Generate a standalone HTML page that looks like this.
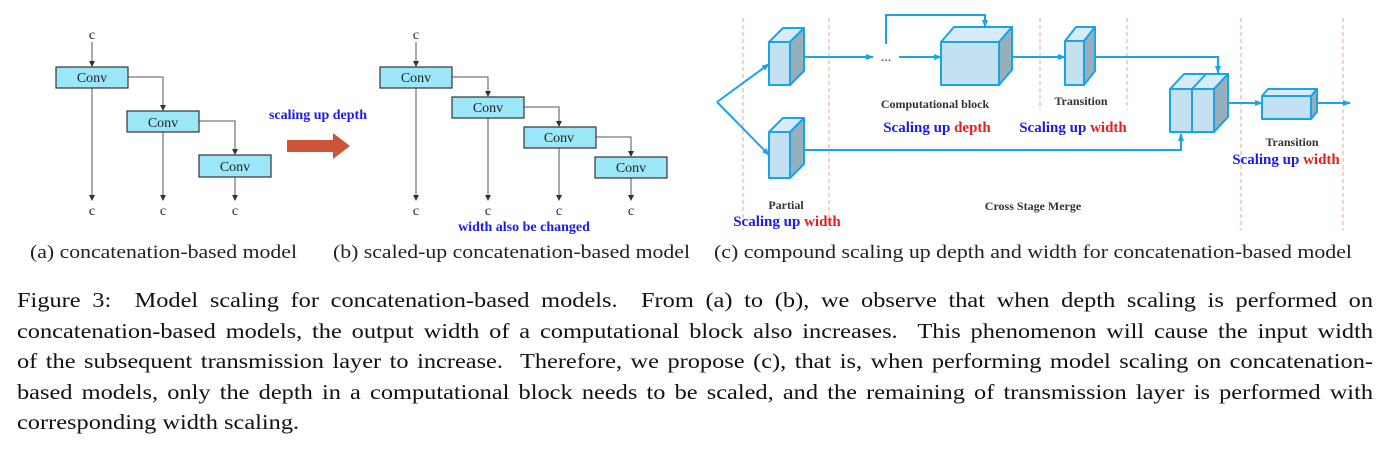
<!DOCTYPE html>
<html><head><meta charset="utf-8"><style>
body{margin:0;width:1393px;height:449px;background:#fff;overflow:hidden;position:relative;font-family:"Liberation Serif",serif}
svg{position:absolute;left:0;top:0}
.cap{position:absolute;left:17px;width:1169px;font-size:21px;line-height:30.5px;color:#111;text-align:justify;text-align-last:justify;white-space:nowrap;transform:scaleX(1.16);transform-origin:0 0}
.cap.l{text-align-last:left}
</style></head><body>
<svg width="1393" height="449" viewBox="0 0 1393 449">
<defs>
<marker id="ag" markerWidth="6" markerHeight="6" refX="5" refY="3" orient="auto" markerUnits="userSpaceOnUse"><path d="M0,0 L6,3 L0,6z" fill="#333"/></marker>
<marker id="ab" markerWidth="8" markerHeight="8" refX="7" refY="4" orient="auto" markerUnits="userSpaceOnUse"><path d="M0,1 L8,4 L0,7z" fill="#1aa3e8"/></marker>
</defs>
<g font-family="Liberation Serif" font-size="14" fill="#222" text-anchor="middle">
<g stroke="#555" stroke-width="1" fill="none">
<line x1="92" y1="42" x2="92" y2="66" marker-end="url(#ag)"/>
<line x1="92" y1="88" x2="92" y2="200" marker-end="url(#ag)"/>
<polyline points="128,77 163,77 163,110" marker-end="url(#ag)"/>
<line x1="163" y1="132" x2="163" y2="200" marker-end="url(#ag)"/>
<polyline points="199,121 235,121 235,154" marker-end="url(#ag)"/>
<line x1="235" y1="177" x2="235" y2="200" marker-end="url(#ag)"/>
</g>
<g fill="#9be6f8" stroke="#333" stroke-width="1.2">
<rect x="56" y="67" width="72" height="21"/><rect x="127" y="111" width="72" height="21"/><rect x="199" y="155" width="72" height="22"/>
</g>
<text x="92" y="39">c</text><text x="92" y="82">Conv</text><text x="163" y="127">Conv</text><text x="235" y="171">Conv</text>
<text x="92" y="215">c</text><text x="163" y="215">c</text><text x="235" y="215">c</text>
<text x="318" y="119" font-weight="bold" fill="#1a1af0" font-size="14">scaling up depth</text>
<path d="M287,140 L333,140 L333,133 L350,146 L333,159 L333,152 L287,152z" fill="#cc5438"/>
<g stroke="#555" stroke-width="1" fill="none">
<line x1="416" y1="42" x2="416" y2="66" marker-end="url(#ag)"/>
<line x1="416" y1="88" x2="416" y2="200" marker-end="url(#ag)"/>
<polyline points="452,77 488,77 488,96" marker-end="url(#ag)"/>
<line x1="488" y1="118" x2="488" y2="200" marker-end="url(#ag)"/>
<polyline points="524,107 559,107 559,126" marker-end="url(#ag)"/>
<line x1="559" y1="148" x2="559" y2="200" marker-end="url(#ag)"/>
<polyline points="596,137 631,137 631,156" marker-end="url(#ag)"/>
<line x1="631" y1="178" x2="631" y2="200" marker-end="url(#ag)"/>
</g>
<g fill="#9be6f8" stroke="#333" stroke-width="1.2">
<rect x="380" y="67" width="72" height="21"/><rect x="452" y="97" width="72" height="21"/><rect x="524" y="127" width="72" height="21"/><rect x="595" y="157" width="72" height="21"/>
</g>
<text x="416" y="39">c</text><text x="416" y="82">Conv</text><text x="488" y="112">Conv</text><text x="559" y="142">Conv</text><text x="631" y="172">Conv</text>
<text x="416" y="215">c</text><text x="488" y="215">c</text><text x="559" y="215">c</text><text x="631" y="215">c</text>
<text x="524" y="231" font-weight="bold" fill="#1a1af0" font-size="14">width also be changed</text>
<g font-size="19" fill="#222" text-anchor="start">
<text x="30" y="258" textLength="267" lengthAdjust="spacingAndGlyphs">(a) concatenation-based model</text>
<text x="333" y="258" textLength="357" lengthAdjust="spacingAndGlyphs">(b) scaled-up concatenation-based model</text>
<text x="714" y="258" textLength="638" lengthAdjust="spacingAndGlyphs">(c) compound scaling up depth and width for concatenation-based model</text>
</g>
</g>
<g stroke="#f0b0a8" stroke-width="1.2" stroke-dasharray="4,3">
<line x1="743" y1="18" x2="743" y2="230"/><line x1="829" y1="18" x2="829" y2="230"/>
<line x1="1040" y1="18" x2="1040" y2="110"/><line x1="1127" y1="18" x2="1127" y2="110"/>
<line x1="1241" y1="18" x2="1241" y2="230"/><line x1="1343" y1="18" x2="1343" y2="230"/>
</g>
<g stroke="#1aa3e8" stroke-width="2" fill="none">
<line x1="717" y1="102" x2="769" y2="64" marker-end="url(#ab)"/>
<line x1="717" y1="102" x2="769" y2="155" marker-end="url(#ab)"/>
<line x1="795" y1="57" x2="873" y2="57" marker-end="url(#ab)"/>
<line x1="899" y1="57" x2="941" y2="57" marker-end="url(#ab)"/>
<polyline points="886,44 886,15 985,15 985,27" marker-end="url(#ab)"/>
<line x1="1011" y1="57" x2="1065" y2="57" marker-end="url(#ab)"/>
<polyline points="1093,57 1218,57 1218,73" marker-end="url(#ab)"/>
<polyline points="797,150 1181,150 1181,134" marker-end="url(#ab)"/>
<line x1="1218" y1="103" x2="1262" y2="103" marker-end="url(#ab)"/>
<line x1="1318" y1="103" x2="1350" y2="103" marker-end="url(#ab)"/>
</g>
<text x="886" y="61" font-family="Liberation Serif" font-size="14" fill="#333" text-anchor="middle">...</text>
<g stroke="#1aa3e8" stroke-width="2" stroke-linejoin="round">
<path d="M769,42 L783,28 L804,28 L790,42z" fill="#d7ecf7"/><path d="M790,42 L804,28 L804,71 L790,85z" fill="#97aebb"/><rect x="769" y="42" width="21" height="43" fill="#c4e1f2"/>
<path d="M769,132 L783,118 L804,118 L790,132z" fill="#d7ecf7"/><path d="M790,132 L804,118 L804,164 L790,178z" fill="#97aebb"/><rect x="769" y="132" width="21" height="46" fill="#c4e1f2"/>
<path d="M941,42 L954,27 L1012,27 L999,42z" fill="#d7ecf7"/><path d="M999,42 L1012,27 L1012,70 L999,85z" fill="#97aebb"/><rect x="941" y="42" width="58" height="43" fill="#c4e1f2"/>
<path d="M1065,41 L1076,27 L1095,27 L1084,41z" fill="#d7ecf7"/><path d="M1084,41 L1095,27 L1095,71 L1084,85z" fill="#97aebb"/><rect x="1065" y="41" width="19" height="44" fill="#c4e1f2"/>
<path d="M1170,89 L1184,74 L1228,74 L1214,89z" fill="#d7ecf7"/><path d="M1214,89 L1228,74 L1228,117 L1214,132z" fill="#97aebb"/><line x1="1192" y1="89" x2="1206" y2="74"/><rect x="1170" y="89" width="22" height="43" fill="#c4e1f2"/><rect x="1192" y="89" width="22" height="43" fill="#c4e1f2"/>
<path d="M1262,96 L1268,89 L1317,89 L1311,96z" fill="#d7ecf7"/><path d="M1311,96 L1317,89 L1317,112 L1311,119z" fill="#97aebb"/><rect x="1262" y="96" width="49" height="23" fill="#c4e1f2"/>
</g>
<g font-family="Liberation Serif" font-weight="bold" text-anchor="middle">
<g font-size="12" fill="#333">
<text x="935" y="108">Computational block</text>
<text x="1081" y="105">Transition</text>
<text x="1292" y="146">Transition</text>
<text x="786" y="209">Partial</text>
<text x="1033" y="210">Cross Stage Merge</text>
</g>
<g font-size="15">
<text x="937" y="132"><tspan fill="#1a1af0">Scaling up </tspan><tspan fill="#f01a1a">depth</tspan></text>
<text x="1073" y="132"><tspan fill="#1a1af0">Scaling up </tspan><tspan fill="#f01a1a">width</tspan></text>
<text x="1286" y="164"><tspan fill="#1a1af0">Scaling up </tspan><tspan fill="#f01a1a">width</tspan></text>
<text x="787" y="226"><tspan fill="#1a1af0">Scaling up </tspan><tspan fill="#f01a1a">width</tspan></text>
</g>
</g>
</svg>
<div class="cap" style="top:285px">Figure 3: &nbsp;Model scaling for concatenation-based models. &nbsp;From (a) to (b), we observe that when depth scaling is performed on</div>
<div class="cap" style="top:315.5px">concatenation-based models, the output width of a computational block also increases. &nbsp;This phenomenon will cause the input width</div>
<div class="cap" style="top:346px">of the subsequent transmission layer to increase. &nbsp;Therefore, we propose (c), that is, when performing model scaling on concatenation-</div>
<div class="cap" style="top:376.5px">based models, only the depth in a computational block needs to be scaled, and the remaining of transmission layer is performed with</div>
<div class="cap l" style="top:407px">corresponding width scaling.</div>
</body></html>
